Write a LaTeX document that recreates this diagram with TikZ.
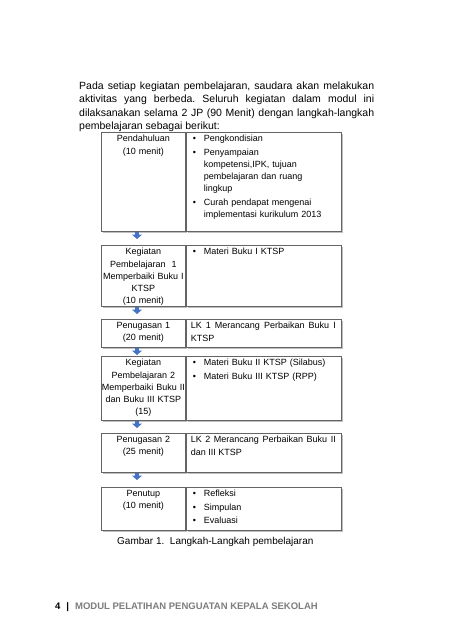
\documentclass[tikz,border=0pt]{standalone}
\usepackage{fontspec}
\setmainfont{Liberation Sans}
\usetikzlibrary{positioning,arrows.meta,shadows}

\definecolor{framegray}{RGB}{100,100,100}
\definecolor{shadowgray}{RGB}{190,190,190}
\definecolor{arrowblue}{RGB}{68,114,196}
\definecolor{footgray}{RGB}{125,125,125}

\newcommand{\boxfont}{\fontsize{9}{12.3}\selectfont}
% one bullet point, later lines hang under the text
\newcommand{\pointitem}[1]{\noindent\hangindent=13pt\hangafter=1\makebox[13pt][l]{\hspace{2pt}\textbullet}#1\par\vspace{1pt}}

\begin{document}
\begin{tikzpicture}[x=1pt,y=-1pt,
		cellbox/.style={draw=framegray, line width=0.6pt, fill=white, anchor=north west, inner sep=0pt,
			drop shadow={shadow xshift=1.6pt, shadow yshift=-1.6pt, fill=shadowgray, opacity=1}},
		leftcell/.style={cellbox, minimum width=84pt},
		rightcell/.style={cellbox, minimum width=155pt},
		lefttext/.style={anchor=north, text width=92pt, align=center, font=\boxfont, inner sep=0pt, yshift=-3pt},
		righttext/.style={anchor=north west, text width=145pt, font=\boxfont, inner sep=0pt, xshift=5pt, yshift=-3pt},
		flowarrow/.style={draw=arrowblue, line width=4pt, -{Triangle[width=10pt,length=4.5pt]}, shorten <=0.5pt, shorten >=#1}]
		\useasboundingbox (0,0) rectangle (453,640);
		\fill[white] (0,0) rectangle (453,640);

		% opening paragraph
		\node[anchor=north west, inner sep=0pt, text width=295pt, align=justify, font=\fontsize{10.5}{13.5}\selectfont\frenchspacing] (intro) at (79,81.5)
			{Pada setiap kegiatan pembelajaran, saudara akan melakukan\linebreak
			aktivitas yang berbeda. Seluruh kegiatan dalam modul ini\linebreak
			dilaksanakan selama 2 JP (90 Menit) dengan langkah-langkah\linebreak
			pembelajaran sebagai berikut:};

		% step 1
		\node[leftcell, minimum height=99pt] (pend) at (101,132) {};
		\node[rightcell, minimum height=99pt] (pendisi) at (pend.north east) {};
		\node[lefttext] at (pend.north) {Pendahuluan\\(10 menit)};
		\node[righttext] at (pendisi.north west) {%
			\pointitem{Pengkondisian}
			\pointitem{Penyampaian\newline kompetensi,IPK, tujuan\newline pembelajaran dan ruang\newline lingkup}
			\pointitem{Curah pendapat mengenai\newline implementasi kurikulum 2013}};

		% step 2
		\node[leftcell, minimum height=61pt] (keg1) at (101,245) {};
		\node[rightcell, minimum height=61pt] (keg1isi) at (keg1.north east) {};
		\node[lefttext] at (keg1.north) {Kegiatan\\Pembelajaran\ \ 1\\Memperbaiki Buku I\\KTSP\\(10 menit)};
		\node[righttext] at (keg1isi.north west) {\pointitem{Materi Buku I KTSP}};

		% step 3
		\node[leftcell, minimum height=28pt] (tugas1) at (101,319) {};
		\node[rightcell, minimum height=28pt] (tugas1isi) at (tugas1.north east) {};
		\node[lefttext] at (tugas1.north) {Penugasan 1\\(20 menit)};
		\node[righttext, align=justify] at (tugas1isi.north west) {LK 1 Merancang Perbaikan Buku I\linebreak KTSP};

		% step 4
		\node[leftcell, minimum height=64pt] (keg2) at (101,356) {};
		\node[rightcell, minimum height=64pt] (keg2isi) at (keg2.north east) {};
		\node[lefttext] at (keg2.north) {Kegiatan\\Pembelajaran 2\\Memperbaiki Buku II\\dan Buku III KTSP\\(15)};
		\node[righttext] at (keg2isi.north west) {%
			\pointitem{Materi Buku II KTSP (Silabus)}
			\pointitem{Materi Buku III KTSP (RPP)}};

		% step 5
		\node[leftcell, minimum height=39pt] (tugas2) at (101,433) {};
		\node[rightcell, minimum height=39pt] (tugas2isi) at (tugas2.north east) {};
		\node[lefttext] at (tugas2.north) {Penugasan 2\\(25 menit)};
		\node[righttext, align=justify] at (tugas2isi.north west) {LK 2 Merancang Perbaikan Buku II\linebreak dan III KTSP};

		% step 6
		\node[leftcell, minimum height=43pt] (tutup) at (101,487) {};
		\node[rightcell, minimum height=43pt] (tutupisi) at (tutup.north east) {};
		\node[lefttext] at (tutup.north) {Penutup\\(10 menit)};
		\node[righttext] at (tutupisi.north west) {%
			\pointitem{Refleksi}
			\pointitem{Simpulan}
			\pointitem{Evaluasi}};

		% arrows between the steps
		\coordinate (ax) at (137,0);
		\draw[flowarrow=6pt] (pend.south -| ax) -- (keg1.north -| ax);
		\draw[flowarrow=5pt] (keg1.south -| ax) -- (tugas1.north -| ax);
		\draw[flowarrow=1pt] (tugas1.south -| ax) -- (keg2.north -| ax);
		\draw[flowarrow=5pt] (keg2.south -| ax) -- (tugas2.north -| ax);
		\draw[flowarrow=7pt] (tugas2.south -| ax) -- (tutup.north -| ax);

		% caption and footer
		\node[anchor=west, inner sep=0pt, font=\fontsize{10}{12}\selectfont] (caption) at (117,542) {Gambar 1.\ \ Langkah-Langkah pembelajaran};
		\node[anchor=west, inner sep=0pt, font=\bfseries\fontsize{9.5}{11}\selectfont] (footer) at (55,607)
			{4\hspace{6pt}|\hspace{6pt}\textcolor{footgray}{MODUL PELATIHAN PENGUATAN KEPALA SEKOLAH}};
	\end{tikzpicture}
\end{document}
